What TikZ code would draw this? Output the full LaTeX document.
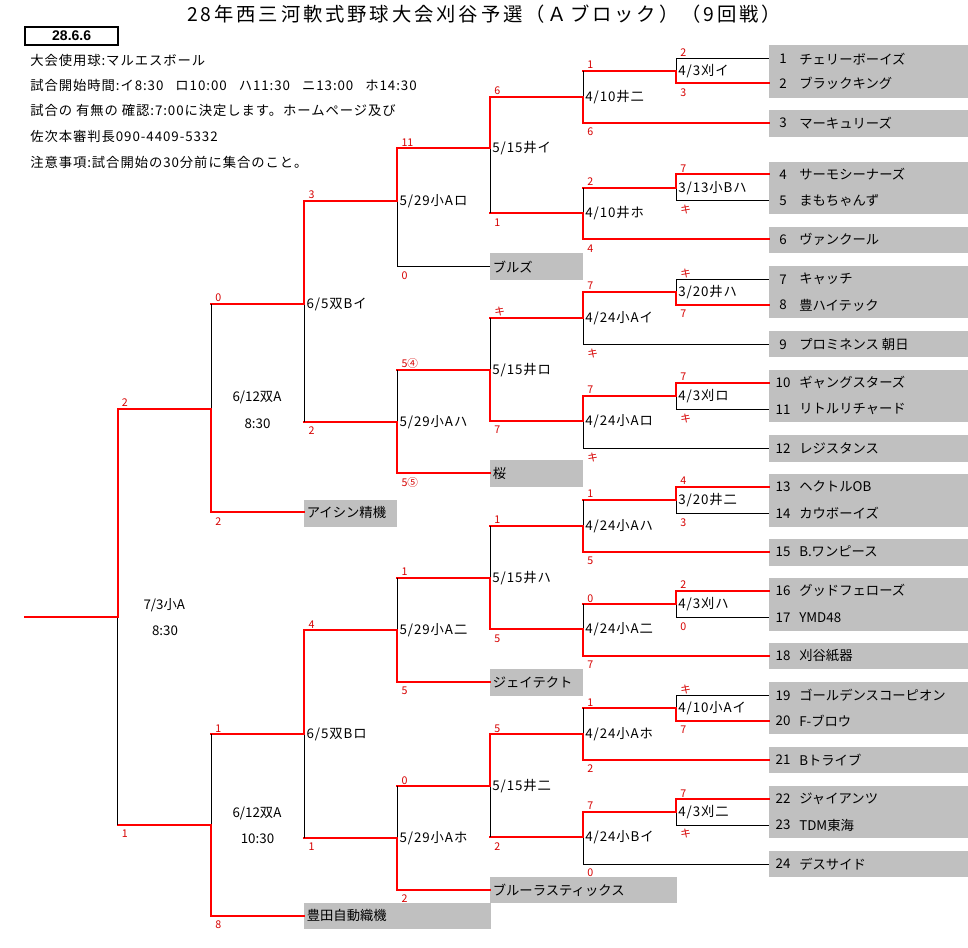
\documentclass[tikz,border=0pt]{standalone}
\usepackage{fontspec}
\setmainfont{Noto Sans CJK JP}
\newfontfamily\titlefont[LetterSpace=15]{Noto Sans CJK JP}
\newfontfamily\widefont[LetterSpace=7]{Noto Sans CJK JP}
\newfontfamily\datefont{Liberation Sans}
\def\slh{/}
\definecolor{boxgray}{RGB}{192,192,192}
\definecolor{scorered}{RGB}{215,0,0}
\tikzset{
  winln/.style={draw=red, line width=1.5pt, line cap=rect},
  losln/.style={draw=black, line width=0.75pt},
  txt/.style={inner sep=0pt, font=\fontsize{10}{12}\selectfont},
  hdr/.style={inner sep=0pt, anchor=west, font=\widefont\fontsize{10}{12}\selectfont},
  lbl/.style={inner sep=0pt, anchor=west, font=\widefont\fontsize{10}{12}\selectfont},
  scr/.style={inner sep=0pt, anchor=base west, text=scorered, font=\fontsize{8}{9}\selectfont},
  ttl/.style={inner sep=0pt, font=\titlefont\fontsize{14.5}{16}\selectfont},
  gbox/.style={fill=boxgray}
}
\begin{document}
\begin{tikzpicture}[x=0.75pt,y=-0.75pt]
\useasboundingbox (0,0) rectangle (968,948);
\fill[white] (0,0) rectangle (968,948);

% title and header
\node[ttl] (title) at (484,14) {28年西三河軟式野球大会刈谷予選（Ａブロック）（9回戦）};
\node[draw, line width=1.5pt, minimum width=69.9pt, minimum height=13.3pt, inner sep=0pt,
      font=\datefont\bfseries\fontsize{10.5}{12}\selectfont] (date) at (71.65,36.15) {28.6.6};
\node[hdr] (h1) at (30,60) {大会使用球:マルエスボール};
\node[hdr] (h2) at (30,85) {試合開始時間:イ8:30\hspace{0.9em}ロ10:00\hspace{0.9em}ハ11:30\hspace{0.9em}ニ13:00\hspace{0.9em}ホ14:30};
\node[hdr] (h3) at (30,110) {試合の 有無の 確認:7:00に決定します。ホームページ及び};
\node[hdr] (h4) at (30,136.7) {佐次本審判長090-4409-5332};
\node[hdr] (h5) at (30,162.3) {注意事項:試合開始の30分前に集合のこと。};

% team boxes
\foreach \ya/\yb in {45/97.7, 110/136.7, 162/214, 227/253, 266/318.3, 331/357.3,
  370/422.3, 435/461.7, 474/526.7, 539.3/565.7, 577.7/630.7, 642.7/669.3,
  682/734.3, 746.7/773.3, 786/838.3, 851/877.3}
  \fill[gbox] (769,\ya) rectangle (968,\yb);

% loser boxes
\fill[gbox] (490,253.4) rectangle (583,280);
\fill[gbox] (490,460.5) rectangle (583,487.3);
\fill[gbox] (304.3,500) rectangle (397.3,526.7);
\fill[gbox] (490,669.3) rectangle (583,695.7);
\fill[gbox] (490,877.3) rectangle (676.7,903.3);
\fill[gbox] (304.3,903.3) rectangle (491,929.3);
\coordinate (l1) at (490,266.7);
\coordinate (l2) at (490,473.3);
\coordinate (l3) at (304.3,512.5);
\coordinate (l4) at (490,682);
\coordinate (l5) at (490,890);
\coordinate (l6) at (304.3,915.7);
\node[txt, anchor=west] (ln1) at (492.5,266.7) {ブルズ};
\node[txt, anchor=west] (ln2) at (492.5,473.3) {桜};
\node[txt, anchor=west] (ln3) at (306.5,512.5) {アイシン精機};
\node[txt, anchor=west] (ln4) at (492.5,682) {ジェイテクト};
\node[txt, anchor=west] (ln5) at (492.5,890) {ブルーラスティックス};
\node[txt, anchor=west] (ln6) at (306.5,915.7) {豊田自動織機};

% teams
\foreach \k/\yy/\nm in {1/58.7/チェリーボーイズ, 2/83.3/ブラックキング, 3/122.7/マーキュリーズ,
  4/174.3/サーモシーナーズ, 5/201/まもちゃんず, 6/239.3/ヴァンクール,
  7/279.3/キャッチ, 8/305/豊ハイテック, 9/344.3/プロミネンス 朝日,
  10/382.7/ギャングスターズ, 11/409.3/リトルリチャード, 12/448.3/レジスタンス,
  13/486.7/ヘクトルOB, 14/513.3/カウボーイズ, 15/551.7/B.ワンピース,
  16/590.7/グッドフェローズ, 17/617.3/YMD48, 18/655.7/刈谷紙器,
  19/695.3/ゴールデンスコーピオン, 20/721/F-ブロウ, 21/760/Bトライブ,
  22/799/ジャイアンツ, 23/825/TDM東海, 24/864/デスサイド}{
  \coordinate (t\k) at (769,\yy);
  \node[txt] (tnum\k) at (783,\yy) {\k};
  \node[txt, anchor=west] (tnm\k) at (799,\yy) {\nm};
}

% matches
\foreach \mn/\mx/\yt/\ym/\yb/\win/\sct/\scb/\cht/\chb/\hst/\hsb in {
  m1/676/58.7/71/83.3/2/2/3/t1/t2/losln/winln,
  m3/676/174.3/187.7/201/1/7/キ/t4/t5/winln/losln,
  m7/676/279.3/291.7/305/2/キ/7/t7/t8/losln/winln,
  m9/676/382.7/395.7/409.3/1/7/キ/t10/t11/winln/losln,
  m15/676/486.7/500/513.3/1/4/3/t13/t14/winln/losln,
  m17/676/590.7/604/617.3/1/2/0/t16/t17/winln/losln,
  m21/676/695.3/708.3/721/2/キ/7/t19/t20/losln/winln,
  m23/676/799/811.7/825/1/7/キ/t22/t23/winln/losln,
  m2/583/71/96.7/122.7/2/1/6/m1-m/t3/winln/winln,
  m4/583/187.7/213.3/239.3/2/2/4/m3-m/t6/winln/winln,
  m8/583/291.7/317.7/344.3/1/7/キ/m7-m/t9/winln/losln,
  m10/583/395.7/421/448.3/1/7/キ/m9-m/t12/winln/losln,
  m16/583/500/526/551.7/2/1/5/m15-m/t15/winln/winln,
  m18/583/604/629.3/655.7/2/0/7/m17-m/t18/winln/winln,
  m22/583/708.3/734/760/2/1/2/m21-m/t21/winln/winln,
  m24/583/811.7/837.3/864/1/7/0/m23-m/t24/winln/losln,
  m5/490/96.7/148.3/213.3/1/6/1/m2-m/m4-m/winln/winln,
  m11/490/317.7/370/421/2/キ/7/m8-m/m10-m/winln/winln,
  m19/490/526/577.7/629.3/2/1/5/m16-m/m18-m/winln/winln,
  m25/490/734/786/837.3/1/5/2/m22-m/m24-m/winln/winln,
  m6/397.3/148.3/200.7/266.7/1/11/0/m5-m/l1/winln/losln,
  m12/397.3/370/421.7/473.3/2/5④/5⑤/m11-m/l2/winln/winln,
  m20/397.3/577.7/630/682/2/1/5/m19-m/l4/winln/winln,
  m26/397.3/786/837.7/890/2/0/2/m25-m/l5/winln/winln,
  m13/304.3/200.7/304/421.7/1/3/2/m6-m/m12-m/winln/winln,
  m27/304.3/630/734/837.7/1/4/1/m20-m/m26-m/winln/winln,
  m14/211/304/409/512.5/2/0/2/m13-m/l3/winln/winln,
  m28/211/734/825/915.7/2/1/8/m27-m/l6/winln/winln,
  m29/117.7/409/616.7/825/1/2/1/m14-m/m28-m/winln/winln}{
  \coordinate (\mn-t) at (\mx,\yt);
  \coordinate (\mn-m) at (\mx,\ym);
  \coordinate (\mn-b) at (\mx,\yb);
  \draw[\hst] (\mn-t) -- (\cht);
  \draw[\hsb] (\mn-b) -- (\chb);
  \ifnum\win=1
    \draw[losln] (\mn-m) -- (\mn-b);
    \draw[winln] (\mn-m) -- (\mn-t);
  \else
    \draw[losln] (\mn-m) -- (\mn-t);
    \draw[winln] (\mn-m) -- (\mn-b);
  \fi
  \node[scr] (\mn-st) at ([xshift=3pt,yshift=1.5pt]\mn-t) {\sct};
  \node[scr] (\mn-sb) at ([xshift=3pt,yshift=-9.6pt]\mn-b) {\scb};
}
\coordinate (out) at (25,616.7);
\draw[winln] (out) -- (m29-m);

% match labels
\foreach \mn/\lab in {m1/4\slh3刈イ, m3/3\slh13小Bハ, m7/3\slh20井ハ, m9/4\slh3刈ロ,
  m15/3\slh20井二, m17/4\slh3刈ハ, m21/4\slh10小Aイ, m23/4\slh3刈二,
  m2/4\slh10井二, m4/4\slh10井ホ, m8/4\slh24小Aイ, m10/4\slh24小Aロ,
  m16/4\slh24小Aハ, m18/4\slh24小A二, m22/4\slh24小Aホ, m24/4\slh24小Bイ,
  m5/5\slh15井イ, m11/5\slh15井ロ, m19/5\slh15井ハ, m25/5\slh15井二,
  m6/5\slh29小Aロ, m12/5\slh29小Aハ, m20/5\slh29小A二, m26/5\slh29小Aホ,
  m13/6\slh5双Bイ, m27/6\slh5双Bロ}
  \node[lbl] (\mn-lab) at ([xshift=1.5pt]\mn-m) {\lab};

\node[txt] (m14-lab1) at (257,397.3) {6/12双A};
\node[txt] (m14-lab2) at (257.5,423.3) {8:30};
\node[txt] (m28-lab1) at (257,813.3) {6/12双A};
\node[txt] (m28-lab2) at (257.5,839) {10:30};
\node[txt] (m29-lab1) at (164.3,605) {7/3小A};
\node[txt] (m29-lab2) at (165,631) {8:30};
\end{tikzpicture}
\end{document}
